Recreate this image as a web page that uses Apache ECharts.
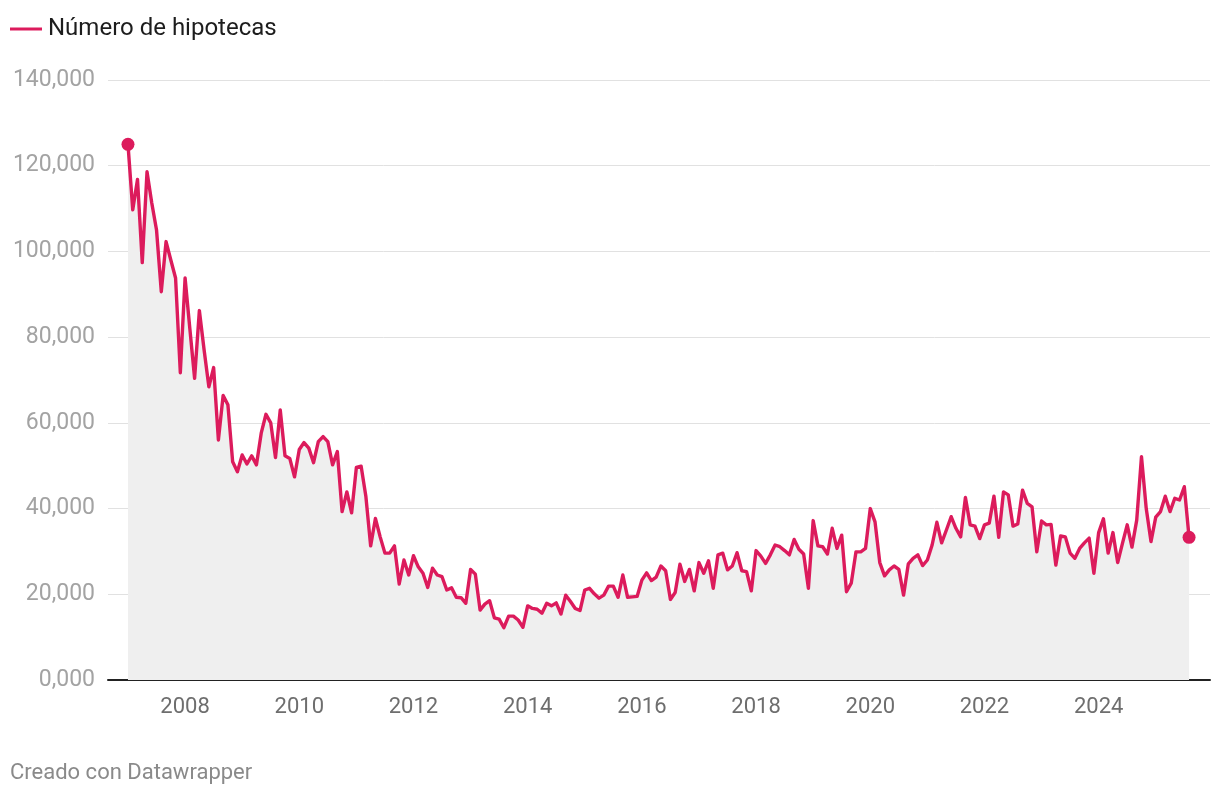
<!DOCTYPE html>
<html>
<head>
<meta charset="utf-8">
<script src="https://cdn.jsdelivr.net/npm/echarts@6/dist/echarts.min.js"></script>
<style>
html,body{margin:0;padding:0;background:#fff;}
#chart{width:1220px;height:796px;}
</style>
</head>
<body>
<div id="chart"></div>
<script>
// Monthly number of mortgages, Jan 2007 – Aug 2025 (one array per year)
const v2007 = [125000, 109700, 116800, 97400, 118600, 111300, 105000, 90600, 102300, 98000, 93800, 71700];
const v2008 = [93800, 82000, 70400, 86200, 77000, 68400, 72900, 56000, 66400, 64200, 50900, 48600];
const v2009 = [52500, 50400, 52300, 50200, 57600, 62000, 60000, 51900, 63000, 52300, 51700, 47400];
const v2010 = [53800, 55400, 54100, 50700, 55600, 56800, 55600, 50200, 53300, 39300, 43900, 39000];
const v2011 = [49600, 49900, 42800, 31300, 37700, 33400, 29600, 29600, 31300, 22400, 28000, 24500];
const v2012 = [29000, 26400, 24900, 21600, 26100, 24500, 24100, 21000, 21500, 19300, 19200, 17900];
const v2013 = [25800, 24700, 16300, 17700, 18500, 14500, 14200, 12200, 14900, 14900, 14000, 12300];
const v2014 = [17300, 16700, 16500, 15600, 17900, 17300, 18000, 15400, 19800, 18300, 16700, 16200];
const v2015 = [21000, 21400, 20100, 19100, 19800, 21900, 21900, 19300, 24500, 19300, 19400, 19500];
const v2016 = [23300, 25000, 23200, 24000, 26600, 25500, 18800, 20400, 27000, 23000, 25800, 20800];
const v2017 = [27400, 24900, 27800, 21400, 29200, 29600, 25700, 26600, 29700, 25500, 25300, 20800];
const v2018 = [30200, 28900, 27200, 29200, 31500, 31100, 30200, 29200, 32800, 30500, 29400, 21400];
const v2019 = [37200, 31300, 31100, 29400, 35400, 30700, 33800, 20600, 22600, 29900, 29900, 30700];
const v2020 = [40000, 36900, 27400, 24300, 25700, 26600, 25800, 19800, 27100, 28400, 29200, 26700];
const v2021 = [28000, 31500, 36800, 32000, 35000, 38100, 35400, 33400, 42600, 36200, 35900, 33000];
const v2022 = [36200, 36600, 42900, 33300, 43900, 43200, 35900, 36400, 44300, 41200, 40400, 29900];
const v2023 = [37100, 36200, 36300, 26800, 33600, 33400, 29600, 28400, 30700, 32000, 33100, 24900];
const v2024 = [34400, 37600, 29600, 34400, 27400, 31900, 36200, 31000, 37300, 52100, 40000, 32300];
const v2025 = [38000, 39300, 42900, 39300, 42400, 42000, 45100, 33300];

const years = [2007,2008,2009,2010,2011,2012,2013,2014,2015,2016,2017,2018,2019,2020,2021,2022,2023,2024,2025];
const yearValues = [v2007,v2008,v2009,v2010,v2011,v2012,v2013,v2014,v2015,v2016,v2017,v2018,v2019,v2020,v2021,v2022,v2023,v2024,v2025];

const xTickLabels = [2008, 2010, 2012, 2014, 2016, 2018, 2020, 2022, 2024];
const seriesName = 'Número de hipotecas';
const footerText = 'Creado con Datawrapper';

// build [time-in-years, value] pairs
const data = [];
years.forEach((y, k) => {
  yearValues[k].forEach((v, m) => data.push([y + m / 12, v]));
});
const endPoints = [data[0], data[data.length - 1]];

const RED = '#dc1b5c';
const FONT = 'Roboto';

const chart = echarts.init(document.getElementById('chart'), null, {renderer: 'canvas'});
chart.setOption({
  animation: false,
  backgroundColor: '#ffffff',
  textStyle: {fontFamily: FONT},
  grid: {left: 108, right: 10, top: 80, bottom: 116, containLabel: false},
  legend: {
    data: [seriesName],
    left: 10,
    top: 17,
    padding: 0,
    icon: 'rect',
    itemWidth: 32,
    itemHeight: 3,
    itemGap: 20,
    textStyle: {fontFamily: FONT, fontSize: 24, color: '#1d1d1d', padding: [0, 0, 0, 1]},
    selectedMode: false
  },
  xAxis: {
    type: 'value',
    min: 2006.65,
    max: 2025.95,
    axisLine: {show: true, lineStyle: {color: '#222222', width: 2}},
    axisTick: {show: false},
    splitLine: {show: false},
    axisLabel: {
      customValues: xTickLabels,
      formatter: v => String(Math.round(v)),
      color: '#6e6e6e',
      fontFamily: FONT,
      fontSize: 22,
      margin: 16
    }
  },
  yAxis: {
    type: 'value',
    min: 0,
    max: 140000,
    interval: 20000,
    axisLine: {show: false},
    axisTick: {show: false},
    splitLine: {show: true, lineStyle: {color: '#e1e1e1', width: 1}},
    axisLabel: {
      color: '#a3a3a3',
      fontFamily: FONT,
      fontSize: 23,
      margin: 13,
      formatter: v => v === 0 ? '0,000' : v.toLocaleString('en-US')
    }
  },
  series: [
    {
      name: seriesName,
      type: 'line',
      data: data,
      symbol: 'none',
      lineStyle: {color: RED, width: 3.4, join: 'round'},
      itemStyle: {color: RED},
      areaStyle: {color: '#efefef', opacity: 1, origin: 'start'},
      z: 3
    },
    {
      name: 'ends',
      type: 'scatter',
      data: endPoints,
      symbol: 'circle',
      symbolSize: 13,
      itemStyle: {color: RED, opacity: 1},
      z: 4
    }
  ],
  graphic: [
    {
      type: 'text',
      left: 10,
      top: 762,
      style: {text: footerText, fontFamily: FONT, fontSize: 22, fill: '#8a8a8a'}
    }
  ]
});
</script>
</body>
</html>
